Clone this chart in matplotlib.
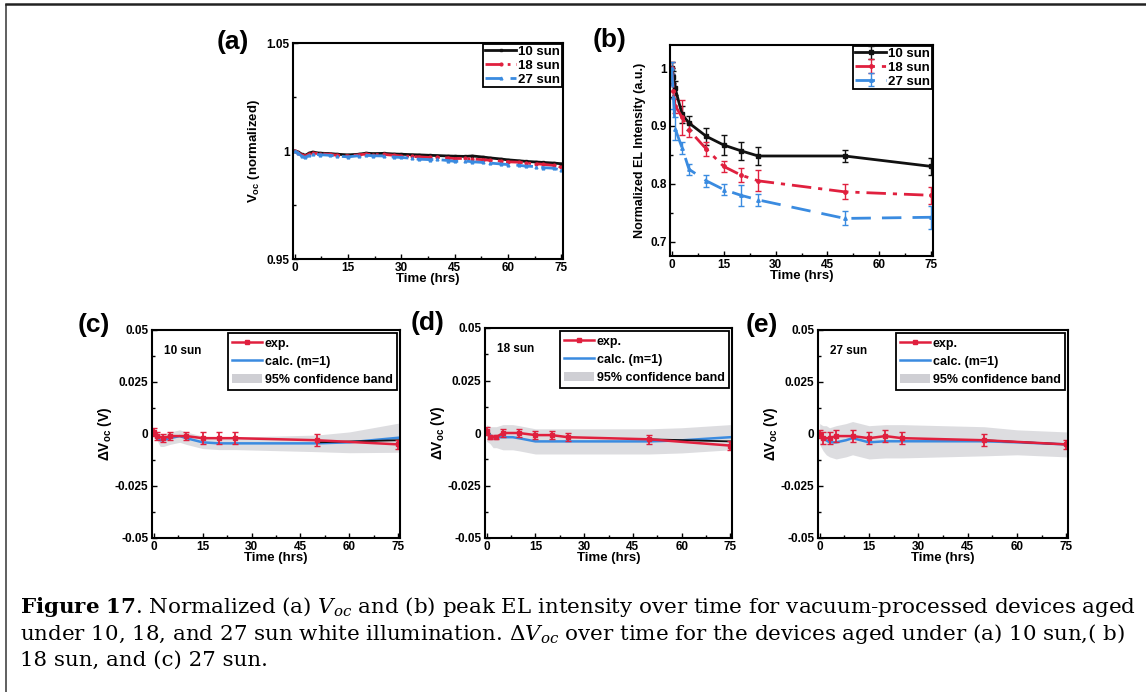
import matplotlib
matplotlib.use("Agg")
import matplotlib.pyplot as plt
from matplotlib.ticker import MultipleLocator, FixedLocator
from matplotlib.patches import Patch
from matplotlib.lines import Line2D
import numpy as np

# ---------------- data ----------------
t_a = [0, 1, 2, 3, 4, 5, 7, 10, 12, 15, 18, 20, 22, 25, 28, 30, 33, 35, 38, 40,
       43, 45, 48, 50, 53, 55, 58, 60, 63, 65, 68, 70, 73, 75]
voc10 = [1.000, 0.9995, 0.9985, 0.998, 0.999, 0.9995, 0.999, 0.9988, 0.9985, 0.9982,
         0.9985, 0.999, 0.9988, 0.9989, 0.9986, 0.9985, 0.9983, 0.9982, 0.998, 0.9979,
         0.9977, 0.9976, 0.9975, 0.9977, 0.9972, 0.9968, 0.9963, 0.9959, 0.9955, 0.9952,
         0.9949, 0.9947, 0.9944, 0.9941]
voc18 = [1.000, 0.9992, 0.998, 0.9976, 0.9985, 0.999, 0.9988, 0.9984, 0.998, 0.9978,
         0.9982, 0.9986, 0.9983, 0.9984, 0.998, 0.9977, 0.9975, 0.9973, 0.997, 0.9971,
         0.9968, 0.9965, 0.9966, 0.9962, 0.996, 0.9957, 0.9953, 0.995, 0.9948, 0.9944,
         0.9941, 0.9938, 0.9933, 0.9925]
voc27 = [1.000, 0.999, 0.9975, 0.997, 0.998, 0.9985, 0.9983, 0.998, 0.9976, 0.9973,
         0.9978, 0.998, 0.9978, 0.9977, 0.9972, 0.997, 0.9966, 0.9962, 0.996, 0.9961,
         0.9956, 0.9952, 0.9954, 0.995, 0.9947, 0.9944, 0.994, 0.9937, 0.9934, 0.993,
         0.9928, 0.9923, 0.992, 0.991]

t_b = [0, 0.5, 1, 3, 5, 10, 15, 20, 25, 50, 75]
el10 = [1.0, 0.985, 0.965, 0.92, 0.905, 0.882, 0.867, 0.857, 0.848, 0.848, 0.83]
el18 = [1.0, 0.96, 0.935, 0.915, 0.893, 0.86, 0.83, 0.815, 0.805, 0.786, 0.78]
el27 = [1.0, 0.95, 0.895, 0.862, 0.825, 0.805, 0.79, 0.78, 0.772, 0.74, 0.742]
el10_err = [0.01, 0.01, 0.012, 0.015, 0.012, 0.015, 0.017, 0.016, 0.015, 0.01, 0.015]
el18_err = [0.01, 0.012, 0.012, 0.03, 0.012, 0.012, 0.01, 0.012, 0.018, 0.013, 0.015]
el27_err = [0.01, 0.02, 0.02, 0.01, 0.01, 0.01, 0.01, 0.018, 0.01, 0.012, 0.02]

t_exp = [0, 1, 3, 5, 10, 15, 20, 25, 50, 75]
exp10 = [0.001, -0.001, -0.002, -0.001, -0.001, -0.002, -0.002, -0.002, -0.003, -0.005]
exp18 = [0.001, -0.002, -0.002, 0.0, 0.0, -0.001, -0.001, -0.002, -0.003, -0.006]
exp27 = [0.0, -0.002, -0.002, -0.001, -0.001, -0.002, -0.001, -0.002, -0.003, -0.005]
exp10_err = [0.002, 0.002, 0.002, 0.002, 0.002, 0.003, 0.003, 0.003, 0.003, 0.002]
exp18_err = [0.002, 0.001, 0.001, 0.002, 0.002, 0.002, 0.002, 0.002, 0.002, 0.002]
exp27_err = [0.002, 0.003, 0.003, 0.003, 0.003, 0.003, 0.003, 0.003, 0.003, 0.002]

t_calc = [0, 1, 2, 3, 5, 8, 10, 15, 20, 25, 50, 60, 75]
calc10 = [0.0, -0.001, -0.003, -0.003, -0.002, -0.001, -0.002, -0.004, -0.0045, -0.0045, -0.0045, -0.004, -0.0018]
calc18 = [0.0, -0.001, -0.002, -0.002, -0.002, -0.002, -0.0025, -0.004, -0.004, -0.004, -0.004, -0.0035, -0.002]
calc27 = [0.0, -0.002, -0.003, -0.004, -0.004, -0.003, -0.002, -0.004, -0.0035, -0.0035, -0.0035, -0.004, -0.005]
band10 = [0.002, 0.002, 0.003, 0.003, 0.003, 0.003, 0.003, 0.003, 0.003, 0.003, 0.004, 0.005, 0.007]
band18 = [0.004, 0.004, 0.005, 0.005, 0.006, 0.006, 0.006, 0.006, 0.006, 0.006, 0.006, 0.006, 0.006]
band27 = [0.005, 0.006, 0.007, 0.007, 0.008, 0.008, 0.008, 0.008, 0.008, 0.008, 0.007, 0.006, 0.006]

t_tail = [50, 75]
tail10 = [-0.004, -0.003]
tail18 = [-0.003, -0.004]
tail27 = [-0.003, -0.005]

x_ticks = [0, 15, 30, 45, 60, 75]
sun_labels = ["10 sun", "18 sun", "27 sun"]
dv_labels = ["exp.", "calc. (m=1)", "95% confidence band"]

# ---------------- style ----------------
SANS = "Liberation Sans"
SERIF = "DejaVu Serif"
RED = "#e0203e"
BLUE = "#3a8be0"
BLACK = "#111111"
GREY = "#cfcfd4"

plt.rcParams["font.family"] = SANS
plt.rcParams["mathtext.fontset"] = "custom"
plt.rcParams["mathtext.rm"] = "Liberation Sans:bold"
plt.rcParams["mathtext.it"] = "Liberation Sans:bold"
plt.rcParams["mathtext.bf"] = "Liberation Sans:bold"

fig = plt.figure(figsize=(11.46, 6.92), dpi=100)

TICK_FS = 8.5
LAB_FS = 9.5


def add_ax(l, t, r, b):
    W, H = 1146, 692
    return fig.add_axes([l / W, 1 - b / H, (r - l) / W, (b - t) / H])


def style_ax(ax, ymajor, yminor, ylabels):
    ax.set_xlim(-0.5, 75.5)
    ax.xaxis.set_major_locator(FixedLocator(x_ticks))
    ax.xaxis.set_minor_locator(MultipleLocator(7.5))
    ax.yaxis.set_major_locator(FixedLocator(ymajor))
    ax.yaxis.set_minor_locator(FixedLocator(yminor))
    ax.set_yticklabels(ylabels)
    ax.tick_params(which="both", direction="in", top=False, right=False,
                   labelsize=TICK_FS, width=1.0)
    ax.tick_params(which="major", length=3.5, pad=2.5)
    ax.tick_params(which="minor", length=2)
    for lab in ax.get_xticklabels() + ax.get_yticklabels():
        lab.set_fontweight("bold")
    for s in ax.spines.values():
        s.set_linewidth(1.5)
    ax.set_xlabel("Time (hrs)", fontsize=LAB_FS, fontweight="bold", labelpad=-1)


def sun_legend(ax):
    lg = ax.legend(loc="upper right", prop=dict(family=SANS, weight="bold", size=9.5),
                   frameon=True, fancybox=False, edgecolor="black", framealpha=1,
                   borderpad=0.15, labelspacing=0.12, handlelength=2.3,
                   handletextpad=0.2, borderaxespad=0.05)
    lg.get_frame().set_linewidth(1.3)


# ---- (a) ----
axa = add_ax(293, 43, 563, 259)
axa.plot(t_a, voc10, color=BLACK, lw=2.0, ls="-", marker="s", ms=2, label=sun_labels[0])
axa.plot(t_a, voc18, color=RED, lw=2.0, ls=(0, (6, 2, 1, 2)), marker="o", ms=2, label=sun_labels[1])
axa.plot(t_a, voc27, color=BLUE, lw=2.0, ls=(0, (6, 3)), marker="^", ms=2, label=sun_labels[2])
axa.set_ylim(0.95, 1.05)
style_ax(axa, [0.95, 1.0, 1.05], [0.975, 1.025], ["0.95", "1", "1.05"])
axa.set_ylabel(r"V$_{oc}$ (normalized)", fontsize=LAB_FS, fontweight="bold", labelpad=3)
sun_legend(axa)
fig.text(217 / 1146, 1 - 42 / 692, "(a)", fontsize=19, fontweight="bold", va="center")

# ---- (b) ----
axb = add_ax(670, 45, 933, 256)
axb.errorbar(t_b, el10, yerr=el10_err, color=BLACK, lw=2.0, ls="-", marker="s", ms=2.5,
             capsize=2.5, elinewidth=1.0, label=sun_labels[0])
axb.errorbar(t_b, el18, yerr=el18_err, color=RED, lw=2.0, ls=(0, (7, 2.5, 1.5, 2.5)), marker="o", ms=2.5,
             capsize=2.5, elinewidth=1.0, label=sun_labels[1])
axb.errorbar(t_b, el27, yerr=el27_err, color=BLUE, lw=2.0, ls=(0, (7, 4)), marker="^", ms=2.5,
             capsize=2.5, elinewidth=1.0, label=sun_labels[2])
axb.set_ylim(0.675, 1.04)
style_ax(axb, [0.7, 0.8, 0.9, 1.0], [0.75, 0.85, 0.95], ["0.7", "0.8", "0.9", "1"])
axb.set_ylabel("Normalized EL Intensity (a.u.)", fontsize=9, fontweight="bold", labelpad=3)
sun_legend(axb)
fig.text(593 / 1146, 1 - 40 / 692, "(b)", fontsize=19, fontweight="bold", va="center")

# ---- (c), (d), (e) ----
panels = [
    ((152, 330, 400, 538), "(c)", (78, 325), sun_labels[0], exp10, exp10_err, calc10, band10, tail10),
    ((485, 328, 732, 538), "(d)", (411, 323), sun_labels[1], exp18, exp18_err, calc18, band18, tail18),
    ((818, 330, 1068, 538), "(e)", (746, 325), sun_labels[2], exp27, exp27_err, calc27, band27, tail27),
]
for box, tag, tagpos, sun, ev, ee, cv, bw, tail in panels:
    ax = add_ax(*box)
    cv_a = np.array(cv)
    bw_a = np.array(bw)
    ax.fill_between(t_calc, cv_a - bw_a, cv_a + bw_a, color=GREY, alpha=0.7, lw=0)
    ax.plot(t_calc, cv, color=BLUE, lw=1.8)
    ax.plot(t_tail, tail, color=BLACK, lw=1.3)
    ax.errorbar(t_exp, ev, yerr=ee, color=RED, lw=1.8, marker="s", ms=3,
                capsize=2.5, elinewidth=1.3)
    ax.set_ylim(-0.05, 0.05)
    style_ax(ax, [-0.05, -0.025, 0, 0.025, 0.05], [-0.0375, -0.0125, 0.0125, 0.0375],
             ["-0.05", "-0.025", "0", "0.025", "0.05"])
    ax.set_ylabel(r"$\Delta$V$_{oc}$ (V)", fontsize=10, fontweight="bold", labelpad=1)
    ax.text(0.05, 0.93, sun, transform=ax.transAxes, fontsize=8.5, fontweight="bold",
            va="top", ha="left")
    handles = [Line2D([], [], color=RED, lw=1.8, marker="s", ms=3),
               Line2D([], [], color=BLUE, lw=1.8),
               Patch(facecolor=GREY, edgecolor="none")]
    lg = ax.legend(handles, dv_labels, loc="upper right",
                   prop=dict(family=SANS, weight="bold", size=9), frameon=True,
                   framealpha=1, fancybox=False, edgecolor="black", borderpad=0.35,
                   labelspacing=0.5, handlelength=2.4, handletextpad=0.2,
                   borderaxespad=0.25)
    lg.get_frame().set_linewidth(1.3)
    fig.text(tagpos[0] / 1146, 1 - tagpos[1] / 692, tag, fontsize=19, fontweight="bold",
             va="center")

# ---- border ----
fig.add_artist(Line2D([6 / 1146, 6 / 1146], [0, 1 - 5 / 692], transform=fig.transFigure,
                      color="#444444", lw=1.2))
fig.add_artist(Line2D([6 / 1146, 1], [1 - 4 / 692, 1 - 4 / 692], transform=fig.transFigure,
                      color="#222222", lw=1.8))

# ---- caption ----
line1 = (r"$\mathbf{Figure\ 17}$. Normalized (a) $V_{oc}$ and (b) peak EL intensity over time "
         r"for vacuum-processed devices aged")
line2 = (r"under 10, 18, and 27 sun white illumination. $\Delta V_{oc}$ over time for the devices "
         r"aged under (a) 10 sun,( b)")
line3 = "18 sun, and (c) 27 sun."
cap_kw = dict(family=SERIF, fontweight="normal", ha="left", va="center",
              math_fontfamily="dejavuserif")
caps = [fig.text(20 / 1146, 1 - y / 692, s, fontsize=16, **cap_kw)
        for s, y in ((line1, 607), (line2, 634), (line3, 660))]
# fit caption width to the reference text block (about 1118 px wide)
renderer = fig.canvas.get_renderer()
w = caps[0].get_window_extent(renderer).width
fs = 16 * 1118.0 / w
for c in caps:
    c.set_fontsize(fs)

fig.savefig("out.png", dpi=100)
